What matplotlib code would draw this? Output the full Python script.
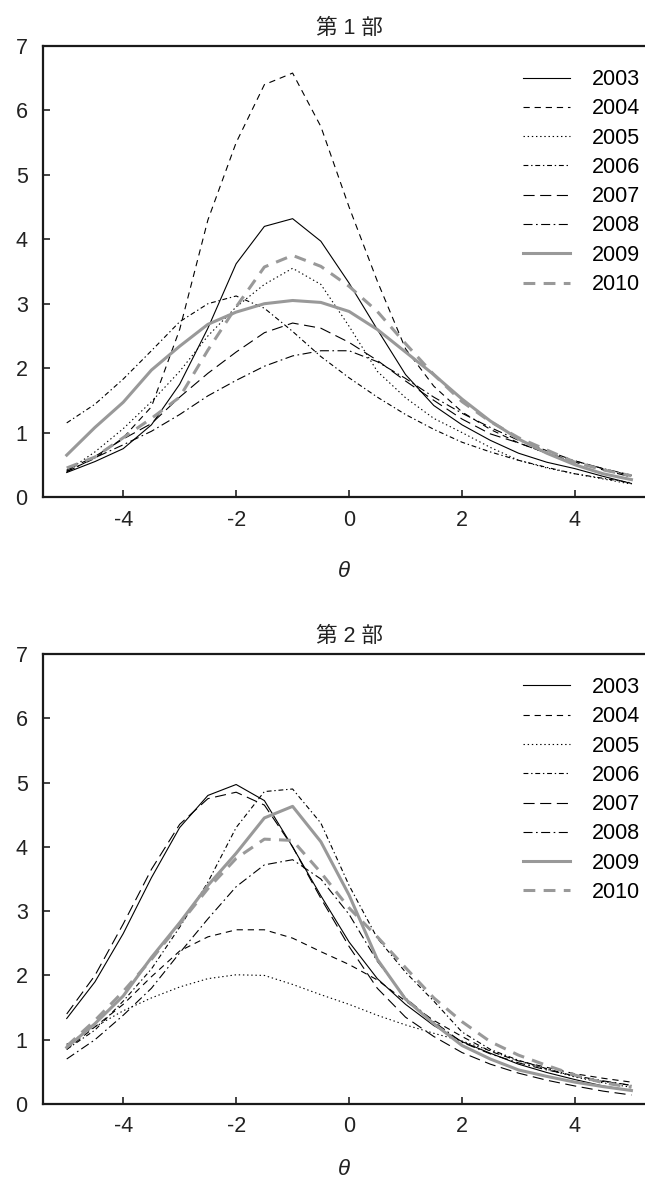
import matplotlib
matplotlib.use("Agg")
import matplotlib.pyplot as plt
import matplotlib.transforms as mtransforms

plt.rcParams['font.family'] = ['Liberation Sans', 'Noto Sans CJK JP', 'DejaVu Sans']
plt.rcParams['lines.scale_dashes'] = False
plt.rcParams['axes.unicode_minus'] = False

# theta grid
theta = [-5.0, -4.5, -4.0, -3.5, -3.0, -2.5, -2.0, -1.5, -1.0, -0.5, 0.0,
         0.5, 1.0, 1.5, 2.0, 2.5, 3.0, 3.5, 4.0, 4.5, 5.0]
years = ["2003", "2004", "2005", "2006", "2007", "2008", "2009", "2010"]

# part 1 information curves
p1_2003 = [0.38, 0.55, 0.75, 1.12, 1.75, 2.62, 3.62, 4.20, 4.32, 3.97, 3.32,
           2.60, 1.90, 1.42, 1.12, 0.88, 0.68, 0.54, 0.44, 0.32, 0.21]
p1_2004 = [0.40, 0.60, 0.92, 1.40, 2.60, 4.30, 5.50, 6.40, 6.58, 5.75, 4.50,
           3.35, 2.30, 1.72, 1.32, 1.05, 0.84, 0.68, 0.56, 0.44, 0.33]
p1_2005 = [0.40, 0.70, 1.06, 1.48, 1.95, 2.50, 2.95, 3.30, 3.55, 3.30, 2.65,
           1.95, 1.54, 1.22, 1.00, 0.77, 0.57, 0.45, 0.36, 0.28, 0.20]
p1_2006 = [1.15, 1.44, 1.83, 2.27, 2.72, 3.00, 3.12, 2.93, 2.57, 2.18, 1.85,
           1.55, 1.28, 1.05, 0.85, 0.70, 0.57, 0.46, 0.36, 0.29, 0.22]
p1_2007 = [0.42, 0.63, 0.90, 1.14, 1.55, 1.92, 2.25, 2.55, 2.70, 2.62, 2.40,
           2.12, 1.80, 1.50, 1.21, 0.98, 0.84, 0.68, 0.54, 0.42, 0.31]
p1_2008 = [0.39, 0.61, 0.81, 1.02, 1.28, 1.57, 1.81, 2.03, 2.19, 2.27, 2.27,
           2.10, 1.84, 1.55, 1.30, 1.08, 0.88, 0.72, 0.56, 0.44, 0.34]
p1_2009 = [0.65, 1.08, 1.47, 1.97, 2.34, 2.68, 2.87, 3.00, 3.05, 3.02, 2.88,
           2.60, 2.25, 1.90, 1.52, 1.18, 0.90, 0.68, 0.50, 0.36, 0.27]
p1_2010 = [0.45, 0.62, 0.92, 1.22, 1.55, 2.28, 2.95, 3.57, 3.75, 3.58, 3.27,
           2.88, 2.38, 1.90, 1.48, 1.17, 0.92, 0.73, 0.54, 0.42, 0.33]

# part 2 information curves
p2_2003 = [1.33, 1.90, 2.65, 3.52, 4.30, 4.80, 4.97, 4.72, 4.00, 3.24, 2.52,
           1.95, 1.55, 1.22, 0.97, 0.79, 0.62, 0.49, 0.38, 0.28, 0.21]
p2_2004 = [0.85, 1.20, 1.55, 1.98, 2.38, 2.60, 2.71, 2.71, 2.58, 2.37, 2.17,
           1.93, 1.60, 1.30, 1.05, 0.82, 0.67, 0.57, 0.47, 0.40, 0.34]
p2_2005 = [0.93, 1.20, 1.45, 1.65, 1.82, 1.95, 2.01, 2.00, 1.86, 1.70, 1.55,
           1.38, 1.23, 1.10, 0.98, 0.83, 0.67, 0.54, 0.42, 0.33, 0.26]
p2_2006 = [0.85, 1.15, 1.60, 2.10, 2.75, 3.45, 4.30, 4.86, 4.90, 4.37, 3.40,
           2.58, 2.05, 1.60, 1.12, 0.85, 0.68, 0.55, 0.43, 0.35, 0.29]
p2_2007 = [1.40, 2.00, 2.80, 3.65, 4.35, 4.75, 4.85, 4.65, 4.00, 3.20, 2.45,
           1.80, 1.35, 1.05, 0.80, 0.62, 0.48, 0.37, 0.28, 0.20, 0.14]
p2_2008 = [0.70, 1.00, 1.38, 1.80, 2.35, 2.88, 3.38, 3.72, 3.80, 3.50, 2.95,
           2.22, 1.65, 1.28, 0.96, 0.78, 0.64, 0.53, 0.44, 0.36, 0.29]
p2_2009 = [0.88, 1.25, 1.68, 2.28, 2.82, 3.40, 3.90, 4.45, 4.63, 4.08, 3.25,
           2.25, 1.63, 1.25, 0.91, 0.70, 0.53, 0.43, 0.34, 0.27, 0.21]
p2_2010 = [0.90, 1.30, 1.75, 2.25, 2.80, 3.35, 3.82, 4.12, 4.10, 3.60, 3.05,
           2.60, 2.12, 1.65, 1.28, 0.97, 0.76, 0.60, 0.45, 0.33, 0.26]

part1 = [p1_2003, p1_2004, p1_2005, p1_2006, p1_2007, p1_2008, p1_2009, p1_2010]
part2 = [p2_2003, p2_2004, p2_2005, p2_2006, p2_2007, p2_2008, p2_2009, p2_2010]
titles = ["第 1 部", "第 2 部"]

gray = "#999999"
styles = [
    dict(color="k", lw=0.8, ls="-"),
    dict(color="k", lw=0.8, ls=(0, (4.5, 3.5))),
    dict(color="k", lw=0.8, ls=(0, (1.0, 2.0))),
    dict(color="k", lw=0.8, ls=(0, (3.5, 2.0, 1.0, 2.0))),
    dict(color="k", lw=0.8, ls=(0, (8.0, 4.0))),
    dict(color="k", lw=0.8, ls=(0, (6.5, 2.5, 1.2, 2.5))),
    dict(color=gray, lw=2.2, ls="-"),
    dict(color=gray, lw=2.2, ls=(0, (8.5, 6.0))),
]

fig = plt.figure(figsize=(6.45, 11.87), dpi=100)
ax1 = fig.add_axes([43 / 645, 1 - 497 / 1187, 1 - 43 / 645, 451 / 1187])
ax2 = fig.add_axes([43 / 645, 1 - 1104 / 1187, 1 - 43 / 645, 450 / 1187])

for ax, curves, title, lpad in zip([ax1, ax2], [part1, part2], titles, [22, 15.5]):
    for vals, yr, st in zip(curves, years, styles):
        ax.plot(theta, vals, label=yr, **st)

    ax.set_xlim(-5.42, 5.24)
    ax.set_ylim(0, 7)
    ax.set_xticks([-4, -2, 0, 2, 4])
    ax.set_yticks(range(0, 8))
    ax.tick_params(direction="in", length=5, width=1.2, labelsize=15.5,
                   colors="#222222")
    ax.tick_params(axis="x", pad=9)
    ax.tick_params(axis="y", pad=11)
    for side in ["left", "bottom", "top"]:
        ax.spines[side].set_linewidth(1.6)
        ax.spines[side].set_color("#1a1a1a")
    ax.spines["right"].set_visible(False)

    trans = mtransforms.blended_transform_factory(ax.transData, ax.transAxes)
    ax.text(0, 1.016, title, transform=trans, ha="center", va="bottom",
            fontsize=15.5, color="#222222")
    ax.set_xlabel("θ", fontsize=16, style="italic", labelpad=lpad,
                  color="#222222")

    ax.legend(loc="upper right", bbox_to_anchor=(1.006, 0.968), frameon=False,
              fontsize=15.5, handlelength=2.2, handletextpad=1.0,
              labelspacing=0.385, borderaxespad=0)

fig.savefig("out.png", dpi=100)
